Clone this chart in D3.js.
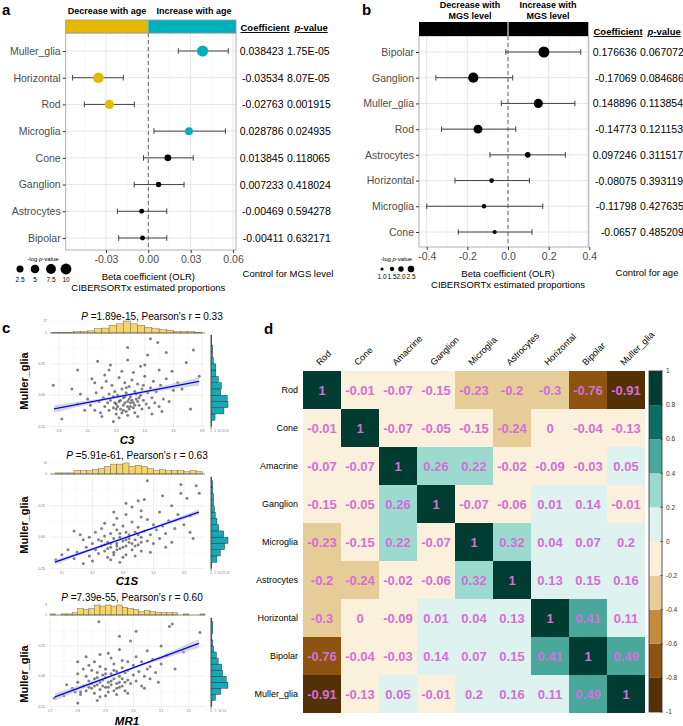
<!DOCTYPE html>
<html><head><meta charset="utf-8">
<script src="https://cdn.jsdelivr.net/npm/d3@7"></script>
<style>body{margin:0;background:#fff}svg{font-family:"Liberation Sans",Arial,sans-serif}</style>
</head><body><svg id="c" width="683" height="726"></svg>
<script>
// ---------- DATA ----------
// panel a : effect of age
const ageCells = ["Muller_glia","Horizontal","Rod","Microglia","Cone","Ganglion","Astrocytes","Bipolar"];
const ageCoef = [0.038423,-0.03534,-0.02763,0.028786,0.013845,0.007233,-0.00469,-0.00411];
const ageLo = [0.0212,-0.0536,-0.0453,0.0040,-0.0034,-0.0100,-0.0219,-0.0210];
const ageHi = [0.0566,-0.0177,-0.0099,0.0546,0.0318,0.0253,0.0131,0.0131];
const agePval = [1.75e-5,8.07e-5,0.001915,0.024935,0.118065,0.418024,0.594278,0.632171];
const agePText = ["1.75E-05","8.07E-05","0.001915","0.024935","0.118065","0.418024","0.594278","0.632171"];
const ageTicks = [-0.03,0,0.03,0.06];
const ageTickText = ["-0.03","0.00","0.03","0.06"];
const ageLegend = [2.5,5,7.5,10];
const ageLegendText = ["2.5","5","7.5","10"];

// panel b : effect of MGS level
const mgsCells = ["Bipolar","Ganglion","Muller_glia","Rod","Astrocytes","Horizontal","Microglia","Cone"];
const mgsCoef = [0.176636,-0.17069,0.148896,-0.14773,0.097246,-0.08075,-0.11798,-0.0657];
const mgsLo = [-0.011,-0.355,-0.033,-0.327,-0.089,-0.261,-0.400,-0.245];
const mgsHi = [0.358,0.023,0.329,0.038,0.282,0.105,0.171,0.118];
const mgsPval = [0.067072,0.084686,0.113854,0.121153,0.311517,0.393119,0.427635,0.485209];
const mgsPText = ["0.067072","0.084686","0.113854","0.121153","0.311517","0.393119","0.427635","0.485209"];
const mgsTicks = [-0.4,-0.2,0,0.2,0.4];
const mgsTickText = ["-0.4","-0.2","0.0","0.2","0.4"];
const mgsLegend = [1.0,1.5,2.0,2.5];
const mgsLegendText = ["1.0","1.5","2.0","2.5"];

// panel c : scatter plots (Muller_glia vs gene expression)
const c3Points = [[2.76,0.08],[2.82,-0.19],[2.93,0.20],[3.07,0.27],[3.28,0.38],[3.37,0.23],[3.42,0.32],[3.55,0.34],[3.28,0.28],[3.16,0.24],[3.32,0.18],[3.59,0.19],[3.69,0.26],[3.78,0.15],[3.72,-0.11],[3.66,0.05],[3.18,-0.21],[2.89,0.05],[3.00,-0.03],[2.93,-0.07],[3.44,0.45],[3.49,0.42],[3.74,0.36],
[3.02,-0.08],[3.05,-0.12],[3.06,0.02],[3.08,-0.05],[3.09,-0.14],[3.10,0.06],[3.11,-0.02],[3.12,-0.09],[3.13,0.11],[3.14,-0.06],[3.15,0.01],[3.15,-0.12],[3.16,-0.04],[3.17,0.08],[3.18,-0.10],[3.19,0.03],[3.20,-0.07],[3.20,-0.15],[3.21,0.00],[3.22,0.14],[3.22,-0.05],[3.23,-0.11],[3.24,0.05],[3.25,-0.02],[3.25,-0.08],[3.26,0.10],[3.27,-0.13],[3.27,0.02],[3.28,-0.05],[3.29,0.07],[3.30,-0.09],[3.30,-0.01],[3.31,0.12],[3.32,-0.06],[3.33,0.03],[3.33,-0.14],[3.34,-0.03],[3.35,0.09],[3.36,-0.08],[3.37,0.00],[3.38,-0.11],[3.38,0.05],[3.39,-0.04],[3.40,0.15],[3.41,-0.07],[3.42,0.02],[3.43,-0.10],[3.44,0.06],[3.45,-0.02],[3.46,0.11],[3.47,-0.06],[3.48,0.03],[3.50,-0.09],[3.51,0.08],[3.53,-0.03],[3.55,0.13],[3.57,-0.05],[3.60,0.04],[3.63,0.10],[3.12,0.16],[3.24,0.19],[3.18,-0.01],[3.28,-0.16],[3.35,-0.17],[3.05,0.10],[3.10,-0.17],[3.22,-0.18],[3.45,-0.15],[3.50,0.20],[3.15,0.20],[2.98,-0.12],[2.95,0.01],[3.03,0.13],[3.40,0.24],[3.52,-0.13],
[3.26,-0.06],[3.31,-0.04],[3.29,-0.11],[3.34,0.01],[3.21,-0.09],[3.36,-0.02],[3.24,-0.14],[3.39,0.08],[3.19,-0.06],[3.27,0.06],
[3.23,-0.04],[3.28,-0.09],[3.32,-0.10],[3.26,-0.01],[3.30,-0.06],[3.35,-0.05],[3.20,-0.11],[3.29,-0.03],[3.33,-0.08],[3.25,-0.12]];
const c1sPoints = [[3.38,0.45],[3.49,0.42],[3.54,0.41],[3.49,0.35],[3.55,0.35],[3.35,0.29],[3.37,0.30],[3.43,0.33],[3.27,0.20],[3.14,0.05],[3.08,-0.18],[3.17,-0.21],[3.52,0.17],[3.46,0.25],[3.51,0.31],[3.31,0.27],[3.36,0.16],
[3.15,-0.12],[3.18,-0.08],[3.19,-0.15],[3.20,-0.05],[3.21,-0.10],[3.22,-0.02],[3.22,-0.13],[3.23,-0.07],[3.24,0.01],[3.24,-0.11],[3.25,-0.04],[3.25,-0.16],[3.26,0.03],[3.26,-0.08],[3.27,-0.01],[3.27,-0.12],[3.28,0.06],[3.28,-0.05],[3.29,-0.09],[3.29,0.00],[3.30,-0.03],[3.30,0.09],[3.31,-0.07],[3.31,-0.14],[3.32,0.02],[3.32,-0.04],[3.33,0.12],[3.33,-0.10],[3.34,0.04],[3.34,-0.02],[3.35,-0.06],[3.35,0.08],[3.36,0.00],[3.36,-0.11],[3.37,0.05],[3.38,-0.03],[3.38,0.14],[3.39,0.02],[3.40,-0.05],[3.40,0.10],[3.41,0.06],[3.42,-0.01],[3.43,0.09],[3.44,0.03],[3.45,0.13],[3.46,-0.04],[3.47,0.07],[3.48,0.18],[3.50,0.10],[3.52,0.04],[3.23,0.07],[3.21,0.04],[3.19,0.00],[3.17,-0.02],[3.26,-0.18],[3.30,-0.16],[3.34,-0.15],[3.28,0.15],[3.31,0.18],[3.24,0.11],[3.12,-0.10],[3.14,-0.17],[3.36,0.21],[3.42,0.20],[3.39,-0.12],[3.44,-0.08],[3.27,0.10],[3.33,0.24],[3.29,-0.20],[3.20,-0.19],[3.16,0.02],[3.10,-0.14],[3.53,-0.01],
[3.28,-0.07],[3.31,-0.02],[3.25,-0.09],[3.33,-0.05],[3.29,0.03],[3.23,-0.03],[3.35,0.02],[3.27,-0.14],
[3.26,-0.05],[3.30,-0.08],[3.32,-0.01],[3.28,-0.10],[3.34,-0.07],[3.24,-0.06],[3.31,0.04],[3.36,-0.04]];
const mr1Points = [[2.876,0.45],[3.13,0.41],[3.14,0.43],[3.24,0.36],[3.01,0.37],[2.95,0.33],[3.10,0.25],[2.99,0.29],[3.05,0.21],[2.80,-0.22],[2.715,-0.18],[2.81,-0.13],[2.88,0.18],[2.98,0.12],[3.06,0.08],[2.80,0.12],[2.83,0.16],
[2.78,-0.10],[2.80,-0.05],[2.81,-0.15],[2.82,-0.08],[2.83,0.00],[2.83,-0.12],[2.84,-0.04],[2.85,0.05],[2.85,-0.10],[2.86,-0.02],[2.86,-0.14],[2.87,0.03],[2.87,-0.07],[2.88,-0.11],[2.88,0.08],[2.89,-0.03],[2.89,0.01],[2.90,-0.09],[2.90,0.06],[2.91,-0.05],[2.91,-0.13],[2.92,0.02],[2.92,-0.07],[2.93,0.10],[2.93,-0.02],[2.94,-0.10],[2.94,0.04],[2.95,-0.05],[2.95,0.00],[2.96,0.07],[2.96,-0.08],[2.97,0.03],[2.97,-0.12],[2.98,-0.03],[2.98,0.05],[2.99,-0.06],[3.00,0.01],[3.00,0.09],[3.01,-0.04],[3.02,0.04],[3.03,-0.08],[3.03,0.12],[3.04,0.00],[3.05,0.06],[3.06,-0.02],[3.07,0.14],[3.08,0.03],[3.10,0.10],[3.12,0.17],[3.15,0.06],[2.84,0.09],[2.86,0.12],[2.88,-0.17],[2.90,-0.16],[2.92,0.15],[2.94,-0.15],[2.96,0.13],[2.98,-0.14],[2.80,0.02],[2.79,-0.13],[2.76,-0.07],[2.82,0.06],[2.91,0.19],[3.01,0.16],[3.04,-0.10],[3.09,-0.05],[2.87,-0.20],[2.95,0.22],[3.18,0.20],[2.75,-0.16],
[2.89,-0.08],[2.92,-0.04],[2.87,-0.01],[2.94,-0.06],[2.90,0.02],[2.85,-0.06],[2.93,0.05],[2.96,-0.02],
[2.88,-0.05],[2.91,-0.09],[2.86,-0.08],[2.93,-0.12],[2.90,-0.01],[2.95,-0.09],[2.84,-0.09],[2.97,-0.05]];
const scatterGenes = ["C3","C1S","MR1"];
const scatterTitleP = ["1.89e-15","5.91e-61","7.39e-55"];
const scatterTitleR = ["0.33","0.63","0.60"];
const scatterXTicks = [[2.8,3.0,3.2,3.4,3.6,3.8],[3.1,3.2,3.3,3.4,3.5],[2.7,2.8,2.9,3.0,3.1,3.2]];
const scatterYTicks = [-0.25,0,0.25];
const scatterFits = [[[2.765,-0.11],[3.78,0.11]],[[3.077,-0.20],[3.549,0.20]],[[2.718,-0.17],[3.236,0.27]]];
const scatterCI = [[0.030,0.009,0.032],[0.020,0.007,0.022],[0.030,0.008,0.035]];

// panel d : correlation matrix
const hmCells = ["Rod","Cone","Amacrine","Ganglion","Microglia","Astrocytes","Horizontal","Bipolar","Muller_glia"];
const hmRod = [1,-0.01,-0.07,-0.15,-0.23,-0.2,-0.3,-0.76,-0.91];
const hmCone = [-0.01,1,-0.07,-0.05,-0.15,-0.24,0,-0.04,-0.13];
const hmAmacrine = [-0.07,-0.07,1,0.26,0.22,-0.02,-0.09,-0.03,0.05];
const hmGanglion = [-0.15,-0.05,0.26,1,-0.07,-0.06,0.01,0.14,-0.01];
const hmMicroglia = [-0.23,-0.15,0.22,-0.07,1,0.32,0.04,0.07,0.2];
const hmAstrocytes = [-0.2,-0.24,-0.02,-0.06,0.32,1,0.13,0.15,0.16];
const hmHorizontal = [-0.3,0,-0.09,0.01,0.04,0.13,1,0.41,0.11];
const hmBipolar = [-0.76,-0.04,-0.03,0.14,0.07,0.15,0.41,1,0.49];
const hmMuller = [-0.91,-0.13,0.05,-0.01,0.2,0.16,0.11,0.49,1];
const colorbarTicks = [1,0.8,0.6,0.4,0.2,0,-0.2,-0.4,-0.6,-0.8,-1];
const heatColors = ["#543006","#8e5310","#c68a3c","#e6cd98","#fbf0dc","#def2ef","#9cd9cf","#4aa79c","#0b6d63","#003c31"];

// ---------- DRAWING ----------
const svg = d3.select("#c");
const GRAY = "#4d4d4d";

function txt(g, x, y, s, size, opt = {}) {
  return g.append("text").attr("x", x).attr("y", y).text(s)
    .attr("font-size", size).attr("fill", opt.fill || "#000")
    .attr("text-anchor", opt.anchor || "start")
    .attr("font-weight", opt.weight || "normal")
    .attr("font-style", opt.style || "normal");
}

txt(svg, 2, 15, "a", 15, {weight: "bold"});
txt(svg, 362, 15, "b", 15, {weight: "bold"});
txt(svg, 2, 333, "c", 15, {weight: "bold"});
txt(svg, 264, 334, "d", 15, {weight: "bold"});

function forest(o) {
  const g = svg.append("g");
  const x = d3.scaleLinear().domain(o.domain).range(o.xr);
  const y = d3.scalePoint().domain(o.cells).range(o.yr);
  const [x0, x1] = o.xr;
  g.selectAll(".mn").data(o.minor).join("line")
    .attr("x1", d => x(d)).attr("x2", d => x(d)).attr("y1", o.pt).attr("y2", o.pb)
    .attr("stroke", "#f2f2f2").attr("stroke-width", 0.6);
  g.selectAll(".mj").data(o.ticks).join("line")
    .attr("x1", d => x(d)).attr("x2", d => x(d)).attr("y1", o.pt).attr("y2", o.pb)
    .attr("stroke", "#e6e6e6").attr("stroke-width", 1);
  g.selectAll(".hr").data(o.cells).join("line")
    .attr("x1", x0).attr("x2", x1).attr("y1", d => y(d)).attr("y2", d => y(d))
    .attr("stroke", "#e6e6e6").attr("stroke-width", 1);
  g.append("line").attr("x1", x(0)).attr("x2", x(0)).attr("y1", o.pt).attr("y2", o.pb)
    .attr("stroke", "#555").attr("stroke-dasharray", "4,3").attr("stroke-width", 0.9);
  g.append("rect").attr("x", x0).attr("y", o.pt).attr("width", x1 - x0).attr("height", o.pb - o.pt)
    .attr("fill", "none").attr("stroke", "#b0b0b0").attr("stroke-width", 1);
  const yax = g.append("g").attr("transform", `translate(${x0},0)`)
    .call(d3.axisLeft(y).tickSize(3).tickPadding(2));
  yax.select(".domain").remove();
  yax.selectAll("line").attr("stroke", "#333");
  yax.selectAll("text").attr("font-size", 10.5).attr("fill", GRAY).attr("font-family", null);
  const xax = g.append("g").attr("transform", `translate(0,${o.pb})`)
    .call(d3.axisBottom(x).tickValues(o.ticks).tickFormat((d, i) => o.tickText[i]).tickSize(3).tickPadding(3));
  xax.select(".domain").remove();
  xax.selectAll("line").attr("stroke", "#333");
  xax.selectAll("text").attr("font-size", 10.5).attr("fill", GRAY).attr("font-family", null);
  o.cells.forEach((c, i) => {
    const yy = y(c);
    g.append("line").attr("x1", x(o.lo[i])).attr("x2", x(o.hi[i])).attr("y1", yy).attr("y2", yy)
      .attr("stroke", "#444").attr("stroke-width", 1);
    [o.lo[i], o.hi[i]].forEach(v => g.append("line").attr("x1", x(v)).attr("x2", x(v))
      .attr("y1", yy - 2.8).attr("y2", yy + 2.8).attr("stroke", "#444").attr("stroke-width", 1));
    g.append("circle").attr("cx", x(o.coef[i])).attr("cy", yy).attr("r", o.rScale(-Math.log(o.pval[i])))
      .attr("fill", o.color(i));
    txt(g, o.coefX, yy + 4, String(o.coef[i]), 10.5, {anchor: "end"});
    txt(g, o.coefX + 3.5, yy + 4, o.ptext[i], 10.5);
  });
  txt(g, o.coefX - 43, o.headY, "Coefficient", 9.5, {weight: "bold"}).attr("text-decoration", "underline");
  const h2 = g.append("text").attr("x", o.coefX + 11).attr("y", o.headY).attr("font-size", 9.5)
    .attr("font-weight", "bold").attr("text-decoration", "underline");
  h2.append("tspan").attr("font-style", "italic").text("p");
  h2.append("tspan").text("-value");
  txt(g, x(0), o.atY, "Beta coefficient (OLR)", 9.5, {anchor: "middle"});
  txt(g, x(0), o.atY + 11, "CIBERSORTx estimated proportions", 9.5, {anchor: "middle"});
  txt(g, o.ctrlX, o.ctrlY, o.ctrl, 9.5, {anchor: "middle"});
  const lt = g.append("text").attr("x", o.legX[0] + (o.legX[3] - o.legX[0]) / 2).attr("y", o.legY - 8)
    .attr("font-size", 6).attr("text-anchor", "middle");
  lt.append("tspan").text("-log ");
  lt.append("tspan").attr("font-style", "italic").text("p");
  lt.append("tspan").text("-value");
  o.legVals.forEach((v, i) => {
    g.append("circle").attr("cx", o.legX[i]).attr("cy", o.legY).attr("r", o.legR(v)).attr("fill", "#000");
    txt(g, o.legX[i], o.legY + o.legDy, o.legText[i], 6.5, {anchor: "middle"});
  });
  return {g, x};
}

// Panel a
const rA = d3.scaleSqrt().domain([0, 11]).range([1.6, 5.6]);
const A = forest({
  cells: ageCells, coef: ageCoef, lo: ageLo, hi: ageHi, pval: agePval, ptext: agePText,
  domain: [-0.0585, 0.0621], xr: [65.7, 236], yr: [51, 238], pt: 33, pb: 250,
  ticks: ageTicks, tickText: ageTickText, minor: [-0.045, -0.015, 0.015, 0.045],
  rScale: rA,
  color: i => agePval[i] < 0.05 ? (ageCoef[i] > 0 ? "#00AFBB" : "#E7B800") : "#000",
  coefX: 283.5, headY: 31, atY: 280, ctrl: "Control for MGS level", ctrlX: 288, ctrlY: 277,
  legVals: ageLegend, legText: ageLegendText, legX: [20, 35, 51, 66], legY: 269, legR: rA, legDy: 13
});
A.g.append("rect").attr("x", 65.7).attr("y", 20).attr("width", A.x(0) - 65.7).attr("height", 13).attr("fill", "#E7B800");
A.g.append("rect").attr("x", A.x(0)).attr("y", 20).attr("width", 236 - A.x(0)).attr("height", 13).attr("fill", "#00AFBB");
A.g.append("rect").attr("x", 65.7).attr("y", 20).attr("width", 236 - 65.7).attr("height", 13).attr("fill", "none").attr("stroke", "#999").attr("stroke-width", 0.8);
txt(A.g, 107, 14, "Decrease with age", 9, {anchor: "middle", weight: "bold"});
txt(A.g, 194, 14, "Increase with age", 9, {anchor: "middle", weight: "bold"});

// Panel b
const rB = d3.scaleLinear().domain([0.7, 2.7]).range([2, 5.5]);
const rBl = d3.scaleLinear().domain([1, 2.5]).range([1.6, 3.3]);
const B = forest({
  cells: mgsCells, coef: mgsCoef, lo: mgsLo, hi: mgsHi, pval: mgsPval, ptext: mgsPText,
  domain: [-0.438, 0.395], xr: [419, 588.3], yr: [52, 232], pt: 36, pb: 247,
  ticks: mgsTicks, tickText: mgsTickText, minor: [-0.3, -0.1, 0.1, 0.3],
  rScale: rB, color: () => "#000",
  coefX: 636.5, headY: 35, atY: 277, ctrl: "Control for age", ctrlX: 647, ctrlY: 276,
  legVals: mgsLegend, legText: mgsLegendText, legX: [382, 392, 401, 411], legY: 269, legR: rBl, legDy: 10
});
B.g.append("rect").attr("x", 419).attr("y", 22).attr("width", 169.3).attr("height", 14).attr("fill", "#000");
B.g.append("line").attr("x1", B.x(0)).attr("x2", B.x(0)).attr("y1", 22).attr("y2", 36).attr("stroke", "#fff").attr("stroke-width", 1);
txt(B.g, 470, 8, "Decrease with", 9, {anchor: "middle", weight: "bold"});
txt(B.g, 470, 19, "MGS level", 9, {anchor: "middle", weight: "bold"});
txt(B.g, 548, 8, "Increase with", 9, {anchor: "middle", weight: "bold"});
txt(B.g, 548, 19, "MGS level", 9, {anchor: "middle", weight: "bold"});

// Panel c
const scatterPoints = [c3Points, c1sPoints, mr1Points];
const scatterLayout = [
  {titleX: 152, titleY: 320, ht: 321, hb: 333, pt: 335, pb: 429, xlY: 444, ylC: 381, xDom: [2.737, 3.821]},
  {titleX: 137, titleY: 459, ht: 463, hb: 474, pt: 477, pb: 571, xlY: 585, ylC: 525, xDom: [3.061, 3.569]},
  {titleX: 132, titleY: 601, ht: 605, hb: 615, pt: 618, pb: 709, xlY: 724.5, ylC: 674, xDom: [2.70, 3.258]}
];
scatterGenes.forEach((gene, k) => {
  const L = scatterLayout[k];
  const pts = scatterPoints[k];
  const g = svg.append("g");
  const x = d3.scaleLinear().domain(L.xDom).range([50, 205]);
  const y = d3.scaleLinear().domain([-0.27, 0.48]).range([L.pb, L.pt]);
  const xt = scatterXTicks[k];
  const xMinor = xt.slice(1).map((v, i) => (v + xt[i]) / 2);
  const yMinor = [-0.125, 0.125, 0.375];
  g.selectAll(".gx").data(xMinor).join("line").attr("x1", d => x(d)).attr("x2", d => x(d))
    .attr("y1", L.pt).attr("y2", L.pb).attr("stroke", "#f3f3f3").attr("stroke-width", 0.5);
  g.selectAll(".gy").data(yMinor).join("line").attr("y1", d => y(d)).attr("y2", d => y(d))
    .attr("x1", 50).attr("x2", 205).attr("stroke", "#f3f3f3").attr("stroke-width", 0.5);
  g.selectAll(".Gx").data(xt).join("line").attr("x1", d => x(d)).attr("x2", d => x(d))
    .attr("y1", L.pt).attr("y2", L.pb).attr("stroke", "#e8e8e8").attr("stroke-width", 0.7);
  g.selectAll(".Gy").data(scatterYTicks).join("line").attr("y1", d => y(d)).attr("y2", d => y(d))
    .attr("x1", 50).attr("x2", 205).attr("stroke", "#e8e8e8").attr("stroke-width", 0.7);
  g.selectAll(".tx").data(xt).join("text").attr("x", d => x(d)).attr("y", L.pb + 3.4)
    .attr("font-size", 3.2).attr("fill", "#777").attr("text-anchor", "middle").text(d => d.toFixed(1));
  g.selectAll(".ty").data(scatterYTicks).join("text").attr("x", 45).attr("y", d => y(d) + 1.2)
    .attr("font-size", 3.4).attr("fill", "#777").attr("text-anchor", "end").text(d => d.toFixed(2));
  g.selectAll(".p").data(pts).join("circle").attr("cx", d => x(d[0])).attr("cy", d => y(d[1]))
    .attr("r", 1.5).attr("fill", "#1a1a1a").attr("fill-opacity", 0.55);
  const f = scatterFits[k], ci = scatterCI[k];
  const xm = (f[0][0] + f[1][0]) / 2, ym = (f[0][1] + f[1][1]) / 2;
  const band = [[f[0][0], f[0][1], ci[0]], [xm, ym, ci[1]], [f[1][0], f[1][1], ci[2]]];
  g.append("path").datum(band).attr("fill", "#bdbdbd").attr("fill-opacity", 0.6)
    .attr("d", d3.area().curve(d3.curveNatural).x(d => x(d[0])).y0(d => y(d[1] - d[2])).y1(d => y(d[1] + d[2])));
  g.append("line").attr("x1", x(f[0][0])).attr("y1", y(f[0][1])).attr("x2", x(f[1][0])).attr("y2", y(f[1][1]))
    .attr("stroke", "#0000ff").attr("stroke-width", 1.3);
  // top marginal histogram
  const bx = d3.bin().domain(L.xDom).thresholds(x.ticks(22))(pts.map(d => d[0]));
  const hy = d3.scaleLinear().domain([0, d3.max(bx, b => b.length)]).range([L.hb, L.ht]);
  const hyTicks = [0, d3.max(bx, b => b.length)];
  g.selectAll(".gh").data(hyTicks).join("line").attr("x1", 50).attr("x2", 205)
    .attr("y1", d => hy(d)).attr("y2", d => hy(d)).attr("stroke", "#eee").attr("stroke-width", 0.5);
  g.selectAll(".hb").data(bx).join("rect").attr("x", b => x(b.x0)).attr("width", b => x(b.x1) - x(b.x0))
    .attr("y", b => hy(b.length)).attr("height", b => L.hb - hy(b.length))
    .attr("fill", "#F6D46A").attr("stroke", "#555").attr("stroke-width", 0.4);
  g.append("line").attr("x1", 50).attr("x2", 205).attr("y1", L.hb).attr("y2", L.hb).attr("stroke", "#444").attr("stroke-width", 0.6);
  g.selectAll(".hyt").data(hyTicks).join("text").attr("x", 47).attr("y", d => hy(d) + 1)
    .attr("font-size", 3).attr("fill", "#777").attr("text-anchor", "end").text(d => d);
  // right marginal histogram
  const by = d3.bin().domain([-0.27, 0.48]).thresholds(y.ticks(22))(pts.map(d => d[1]));
  const hx = d3.scaleLinear().domain([0, d3.max(by, b => b.length)]).range([211, 228]);
  g.selectAll(".vb").data(by).join("rect").attr("y", b => y(b.x1)).attr("height", b => y(b.x0) - y(b.x1))
    .attr("x", 211).attr("width", b => hx(b.length) - 211)
    .attr("fill", "#17A9B6").attr("stroke", "#222").attr("stroke-width", 0.4);
  g.append("line").attr("x1", 211).attr("x2", 211).attr("y1", L.pt).attr("y2", L.pb).attr("stroke", "#444").attr("stroke-width", 0.6);
  g.selectAll(".hxt").data(hx.ticks(3)).join("text").attr("x", d => hx(d)).attr("y", L.pb + 3.4)
    .attr("font-size", 3).attr("fill", "#777").attr("text-anchor", "middle").text(d => d);
  const t = g.append("text").attr("x", L.titleX).attr("y", L.titleY).attr("font-size", 10).attr("text-anchor", "middle");
  t.append("tspan").attr("font-style", "italic").text("P");
  t.append("tspan").text(" =" + scatterTitleP[k] + ", Pearson's r = " + scatterTitleR[k]);
  txt(g, 127, L.xlY, gene, 11.5, {anchor: "middle", weight: "bold", style: "italic"});
  txt(g, 0, 0, "Muller_glia", 11, {anchor: "middle", weight: "bold"})
    .attr("transform", `translate(28,${L.ylC}) rotate(-90)`);
});

// Panel d
const hmMatrix = [hmRod, hmCone, hmAmacrine, hmGanglion, hmMicroglia, hmAstrocytes, hmHorizontal, hmBipolar, hmMuller];
const hx = d3.scaleBand().domain(hmCells).range([303, 645]);
const hy2 = d3.scaleBand().domain(hmCells).range([371, 713]);
const hcol = d3.scaleThreshold().domain([-0.8, -0.6, -0.4, -0.2, 0, 0.2, 0.4, 0.6, 0.8]).range(heatColors);
const cellData = [];
hmMatrix.forEach((row, i) => row.forEach((v, j) => cellData.push({r: hmCells[i], c: hmCells[j], v})));
const gd = svg.append("g");
gd.selectAll("rect.cell").data(cellData).join("rect").attr("class", "cell")
  .attr("x", d => hx(d.c)).attr("y", d => hy2(d.r)).attr("width", hx.bandwidth()).attr("height", hy2.bandwidth())
  .attr("fill", d => hcol(d.v - 1e-9));
gd.selectAll("text.val").data(cellData).join("text").attr("class", "val")
  .attr("x", d => hx(d.c) + hx.bandwidth() / 2).attr("y", d => hy2(d.r) + hy2.bandwidth() / 2 + 4.5)
  .attr("text-anchor", "middle").attr("font-size", 13).attr("font-weight", "bold").attr("fill", "#D46FD6")
  .text(d => String(d.v));
gd.selectAll("text.rl").data(hmCells).join("text").attr("class", "rl")
  .attr("x", 298).attr("y", d => hy2(d) + hy2.bandwidth() / 2 + 3).attr("text-anchor", "end")
  .attr("font-size", 9).text(d => d);
gd.selectAll("text.cl").data(hmCells).join("text").attr("class", "cl")
  .attr("transform", d => `translate(${hx(d) + hx.bandwidth() / 2 - 2},366) rotate(-45)`)
  .attr("font-size", 9).text(d => d);
const cb = d3.scaleLinear().domain([-1, 1]).range([712, 371]);
const cbBins = d3.range(10).map(i => [-1 + 0.2 * i, -0.8 + 0.2 * i]);
gd.selectAll("rect.cb").data(cbBins).join("rect").attr("class", "cb")
  .attr("x", 649).attr("width", 13).attr("y", d => cb(d[1])).attr("height", d => cb(d[0]) - cb(d[1]))
  .attr("fill", (d, i) => heatColors[i]);
gd.append("rect").attr("x", 649).attr("y", 371).attr("width", 13).attr("height", 341)
  .attr("fill", "none").attr("stroke", "#333").attr("stroke-width", 0.8);
gd.selectAll("line.cbt").data(colorbarTicks).join("line").attr("class", "cbt")
  .attr("x1", 660).attr("x2", 663).attr("y1", d => cb(d)).attr("y2", d => cb(d)).attr("stroke", "#333").attr("stroke-width", 0.6);
gd.selectAll("text.cbl").data(colorbarTicks).join("text").attr("class", "cbl")
  .attr("x", 666).attr("y", d => cb(d) + 2.2).attr("font-size", 6.5).attr("fill", "#333").text(d => String(d));
</script></body></html>
